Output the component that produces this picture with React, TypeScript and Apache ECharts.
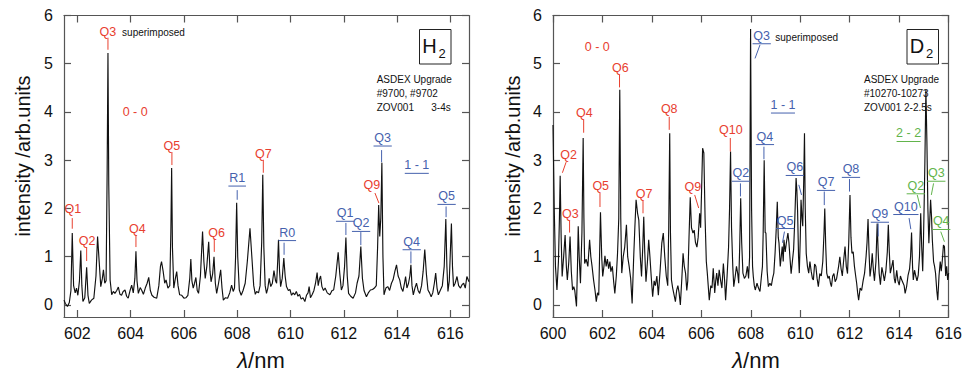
import React, { useEffect, useRef } from 'react';
import * as echarts from 'echarts';

// ---------- data: H2 spectrum (wavelength nm, intensity arb.units) ----------
const h2Spectrum: [number, number][] = [
  [601.50, 0.10], [601.55, 0.03], [601.63, -0.03], [601.70, 0.05], [601.76, 0.30], [601.81, 1.49],
  [601.86, 0.40], [601.92, 0.25], [601.97, 0.35], [602.02, 0.20], [602.08, 0.50], [602.13, 1.13],
  [602.17, 0.40], [602.21, 0.07], [602.28, 0.15], [602.35, 0.78], [602.40, 0.20], [602.45, 0.03],
  [602.53, 0.10], [602.62, 0.14], [602.70, 0.60], [602.76, 1.42], [602.82, 0.90], [602.88, 0.38],
  [602.94, 0.55], [602.98, 0.73], [603.03, 0.45], [603.08, 0.50], [603.12, 2.80], [603.15, 5.22],
  [603.18, 2.50], [603.23, 0.52], [603.29, 0.21], [603.35, 0.28], [603.41, 0.24], [603.48, 0.30],
  [603.54, 0.37], [603.60, 0.22], [603.66, 0.20], [603.72, 0.28], [603.79, 0.31], [603.85, 0.18],
  [603.91, 0.14], [603.98, 0.30], [604.04, 0.41], [604.10, 0.25], [604.16, 0.55], [604.20, 1.11],
  [604.24, 0.50], [604.29, 0.24], [604.36, 0.36], [604.42, 0.30], [604.48, 0.22], [604.55, 0.35],
  [604.62, 0.45], [604.68, 0.57], [604.74, 0.30], [604.80, 0.20], [604.88, 0.16], [604.98, 0.14],
  [605.06, 0.40], [605.12, 0.80], [605.16, 0.90], [605.22, 0.70], [605.28, 0.45], [605.33, 0.52],
  [605.40, 0.35], [605.47, 0.40], [605.51, 1.50], [605.54, 2.84], [605.57, 1.20], [605.62, 0.35],
  [605.68, 0.55], [605.73, 0.69], [605.78, 0.40], [605.84, 0.21], [605.92, 0.20], [606.00, 0.14],
  [606.08, 0.15], [606.15, 0.20], [606.22, 0.55], [606.26, 0.95], [606.30, 0.50], [606.35, 0.35],
  [606.40, 0.45], [606.45, 0.57], [606.50, 0.30], [606.55, 0.24], [606.62, 0.60], [606.70, 1.52],
  [606.75, 0.90], [606.80, 0.55], [606.86, 0.80], [606.93, 1.31], [606.98, 0.70], [607.02, 0.48],
  [607.08, 0.65], [607.13, 1.00], [607.18, 0.45], [607.23, 0.24], [607.30, 0.45], [607.38, 0.73],
  [607.43, 0.35], [607.48, 0.10], [607.56, 0.15], [607.64, 0.14], [607.72, 0.25], [607.79, 0.41],
  [607.85, 0.28], [607.90, 0.35], [607.94, 1.00], [607.98, 2.12], [608.02, 1.00], [608.08, 0.31],
  [608.15, 0.20], [608.22, 0.30], [608.30, 0.45], [608.38, 0.90], [608.48, 1.59], [608.55, 1.00],
  [608.62, 0.40], [608.68, 0.22], [608.73, 0.28], [608.80, 0.25], [608.86, 0.40], [608.92, 1.30],
  [608.96, 2.70], [609.00, 1.20], [609.05, 0.40], [609.10, 0.24], [609.15, 0.35], [609.20, 0.55],
  [609.26, 0.38], [609.32, 0.45], [609.38, 0.71], [609.44, 0.50], [609.48, 0.45], [609.52, 0.90],
  [609.55, 1.35], [609.59, 0.70], [609.63, 0.38], [609.69, 0.55], [609.75, 0.97], [609.80, 0.60],
  [609.85, 0.38], [609.92, 0.30], [609.98, 0.32], [610.04, 0.20], [610.10, 0.25], [610.16, 0.21],
  [610.22, 0.28], [610.28, 0.18], [610.34, 0.22], [610.40, 0.12], [610.47, 0.15], [610.54, 0.07],
  [610.60, 0.20], [610.66, 0.25], [610.70, 0.38], [610.75, 0.15], [610.82, 0.22], [610.88, 0.30],
  [610.94, 0.45], [611.00, 0.67], [611.04, 0.40], [611.08, 0.52], [611.13, 0.60], [611.18, 0.38],
  [611.24, 0.30], [611.30, 0.35], [611.38, 0.25], [611.48, 0.21], [611.56, 0.30], [611.62, 0.31],
  [611.70, 0.60], [611.79, 1.09], [611.85, 0.65], [611.91, 0.31], [611.97, 0.40], [612.03, 0.80],
  [612.08, 1.40], [612.13, 0.60], [612.18, 0.24], [612.26, 0.18], [612.35, 0.14], [612.44, 0.25],
  [612.50, 0.45], [612.57, 0.60], [612.64, 1.21], [612.70, 0.55], [612.76, 0.30], [612.85, 0.17],
  [612.92, 0.25], [613.00, 0.31], [613.08, 0.32], [613.15, 0.35], [613.22, 0.40], [613.27, 1.20],
  [613.31, 2.07], [613.35, 1.42], [613.39, 1.80], [613.43, 2.95], [613.47, 1.00], [613.51, 0.21],
  [613.58, 0.35], [613.65, 0.38], [613.72, 0.30], [613.79, 0.45], [613.85, 0.52], [613.92, 0.70],
  [613.98, 0.83], [614.04, 0.60], [614.10, 0.52], [614.16, 0.35], [614.22, 0.28], [614.28, 0.45],
  [614.32, 0.59], [614.37, 0.35], [614.43, 0.45], [614.48, 0.60], [614.52, 0.83], [614.56, 0.40],
  [614.61, 0.21], [614.67, 0.35], [614.73, 0.45], [614.79, 0.30], [614.85, 0.24], [614.92, 0.40],
  [614.98, 0.70], [615.04, 1.15], [615.10, 0.65], [615.16, 0.31], [615.22, 0.25], [615.28, 0.17],
  [615.34, 0.25], [615.40, 0.45], [615.45, 0.66], [615.50, 0.35], [615.55, 0.21], [615.62, 0.30],
  [615.70, 0.40], [615.77, 0.80], [615.83, 1.78], [615.87, 0.80], [615.91, 0.28], [615.96, 0.50],
  [616.04, 1.69], [616.08, 0.80], [616.12, 0.38], [616.18, 0.45], [616.25, 0.59], [616.31, 0.40],
  [616.38, 0.35], [616.44, 0.42], [616.50, 0.45], [616.56, 0.35], [616.62, 0.59], [616.70, 0.48],
];

// ---------- data: D2 spectrum ----------
const d2Spectrum: [number, number][] = [
  [600.00, 3.73], [600.05, 2.00], [600.10, 0.80], [600.16, 0.31], [600.22, 0.90], [600.26, 1.80],
  [600.29, 2.68], [600.33, 1.40], [600.37, 0.59], [600.43, 1.00], [600.49, 1.45], [600.54, 0.80],
  [600.58, 0.52], [600.64, 0.90], [600.69, 1.42], [600.74, 0.70], [600.79, 0.31], [600.84, 0.38],
  [600.88, 0.30], [600.95, -0.03], [600.99, 0.80], [601.02, 1.63], [601.06, 1.00], [601.11, 0.45],
  [601.17, 1.50], [601.22, 3.46], [601.25, 1.80], [601.28, 0.86], [601.34, 0.95], [601.41, 0.80],
  [601.48, 1.35], [601.53, 1.00], [601.58, 0.80], [601.64, 0.52], [601.70, 0.30], [601.75, 0.07],
  [601.80, 0.25], [601.85, 0.20], [601.92, 1.92], [601.97, 1.00], [602.01, 0.59], [602.06, 0.80],
  [602.10, 1.02], [602.15, 0.80], [602.20, 0.95], [602.25, 0.75], [602.30, 0.90], [602.34, 0.69],
  [602.40, 0.80], [602.45, 0.50], [602.50, 0.24], [602.56, 0.60], [602.61, 1.07], [602.66, 1.80],
  [602.70, 4.46], [602.74, 1.80], [602.78, 0.66], [602.84, 1.00], [602.90, 1.20], [602.97, 1.66],
  [603.02, 1.00], [603.08, 0.80], [603.14, 0.55], [603.20, 0.03], [603.26, 0.95], [603.31, 1.60],
  [603.36, 2.18], [603.42, 1.90], [603.47, 1.76], [603.53, 1.00], [603.58, 0.59], [603.63, 1.20],
  [603.67, 1.83], [603.71, 1.10], [603.76, 0.48], [603.82, 0.90], [603.87, 1.35], [603.92, 1.00],
  [603.97, 0.60], [604.03, 0.17], [604.09, 0.50], [604.14, 0.40], [604.20, 0.60], [604.26, 0.20],
  [604.33, 0.70], [604.40, 1.28], [604.46, 1.49], [604.52, 1.00], [604.58, 0.60], [604.64, 0.40],
  [604.68, 1.60], [604.72, 3.56], [604.75, 1.50], [604.79, 0.52], [604.84, 0.35], [604.90, 0.20],
  [604.95, 0.07], [605.00, 0.30], [605.05, 0.40], [605.10, 0.25], [605.15, 0.00], [605.21, 0.55],
  [605.26, 1.07], [605.31, 0.80], [605.36, 0.66], [605.41, 0.30], [605.45, 0.50], [605.50, 1.40],
  [605.55, 2.23], [605.60, 1.60], [605.66, 1.49], [605.71, 1.55], [605.76, 1.30], [605.82, 1.20],
  [605.87, 1.40], [605.93, 1.90], [605.97, 1.60], [606.01, 2.40], [606.05, 3.25], [606.10, 3.15],
  [606.15, 1.80], [606.20, 0.90], [606.24, 0.66], [606.32, 0.10], [606.38, 0.40], [606.43, 0.35],
  [606.48, 0.76], [606.54, 0.25], [606.58, 0.50], [606.62, 0.66], [606.67, 0.40], [606.72, 0.73],
  [606.78, 0.50], [606.83, 0.35], [606.89, 0.86], [606.94, 0.50], [606.98, 0.10], [607.04, 0.60],
  [607.10, 1.20], [607.14, 2.00], [607.18, 3.18], [607.22, 1.60], [607.27, 0.80], [607.31, 0.38],
  [607.37, 0.60], [607.42, 0.80], [607.47, 0.65], [607.51, 0.45], [607.55, 1.20], [607.59, 2.21],
  [607.63, 1.30], [607.68, 0.66], [607.74, 0.55], [607.80, 0.60], [607.86, 0.80], [607.91, 0.55],
  [607.95, 1.00], [607.99, 5.72], [608.03, 2.00], [608.07, 0.80], [608.10, 0.59], [608.14, 0.40],
  [608.18, 0.31], [608.25, 0.45], [608.31, 0.35], [608.37, 0.28], [608.43, 0.60], [608.47, 0.80],
  [608.50, 1.50], [608.54, 3.00], [608.58, 1.50], [608.61, 1.49], [608.66, 0.70], [608.71, 0.38],
  [608.77, 0.45], [608.83, 0.40], [608.88, 0.55], [608.93, 0.66], [608.98, 1.07], [609.03, 1.60],
  [609.07, 2.14], [609.11, 1.40], [609.14, 1.28], [609.19, 0.80], [609.23, 1.00], [609.27, 1.21],
  [609.31, 0.90], [609.34, 1.35], [609.39, 1.10], [609.44, 1.30], [609.50, 1.49], [609.54, 1.30],
  [609.58, 1.00], [609.63, 0.65], [609.68, 0.90], [609.73, 1.15], [609.78, 1.80], [609.83, 2.63],
  [609.86, 2.40], [609.89, 1.97], [609.93, 1.00], [609.96, 0.66], [610.00, 1.40], [610.03, 2.18],
  [610.07, 1.80], [610.10, 1.63], [610.14, 2.60], [610.17, 3.56], [610.20, 2.00], [610.24, 1.07],
  [610.29, 0.80], [610.34, 0.66], [610.39, 0.90], [610.44, 0.70], [610.49, 0.55], [610.53, 0.52],
  [610.58, 0.85], [610.63, 0.80], [610.68, 0.55], [610.73, 0.38], [610.79, 0.65], [610.85, 0.60],
  [610.91, 0.90], [610.96, 1.50], [610.99, 2.00], [611.03, 1.20], [611.07, 0.66], [611.12, 0.55],
  [611.17, 0.60], [611.22, 0.45], [611.26, 0.38], [611.31, 0.60], [611.36, 0.65], [611.41, 0.48],
  [611.47, 0.55], [611.55, 0.80], [611.60, 1.00], [611.65, 0.75], [611.70, 0.60], [611.75, 0.90],
  [611.81, 1.21], [611.86, 0.80], [611.91, 0.65], [611.96, 1.30], [612.01, 2.28], [612.05, 1.40],
  [612.09, 1.07], [612.14, 1.10], [612.19, 0.80], [612.24, 0.60], [612.28, 0.45], [612.32, 0.25],
  [612.36, 0.10], [612.42, 0.35], [612.48, 0.30], [612.54, 0.50], [612.60, 0.66], [612.66, 1.00],
  [612.70, 1.30], [612.74, 1.78], [612.78, 1.10], [612.82, 0.59], [612.87, 0.80], [612.91, 1.07],
  [612.96, 0.70], [613.00, 0.50], [613.06, 0.90], [613.11, 1.69], [613.15, 1.10], [613.19, 0.66],
  [613.24, 0.42], [613.30, 0.78], [613.35, 0.65], [613.40, 0.50], [613.46, 0.70], [613.52, 1.10],
  [613.56, 1.66], [613.60, 1.10], [613.64, 0.66], [613.70, 0.80], [613.75, 0.93], [613.80, 0.55],
  [613.84, 0.45], [613.90, 0.72], [613.95, 0.50], [614.00, 0.41], [614.05, 0.60], [614.10, 0.52],
  [614.16, 0.45], [614.20, 0.40], [614.24, 0.24], [614.30, 0.38], [614.36, 0.62], [614.42, 0.75],
  [614.46, 1.00], [614.50, 1.50], [614.54, 0.80], [614.57, 0.52], [614.62, 0.72], [614.67, 0.60],
  [614.72, 0.50], [614.77, 0.62], [614.82, 1.00], [614.87, 1.90], [614.91, 1.20], [614.95, 0.70],
  [614.98, 1.30], [615.01, 2.10], [615.04, 3.00], [615.08, 4.46], [615.12, 3.40], [615.16, 2.00],
  [615.20, 1.28], [615.24, 1.80], [615.27, 2.18], [615.31, 1.80], [615.34, 1.35], [615.39, 0.90],
  [615.43, 0.80], [615.47, 0.66], [615.52, 0.30], [615.56, 0.10], [615.61, 0.60], [615.66, 0.90],
  [615.70, 0.70], [615.74, 0.90], [615.79, 1.24], [615.83, 1.21], [615.88, 0.60], [615.92, 0.80],
  [615.96, 0.52], [616.00, 0.66],
];

// ---------- line labels: name, band (0 = 0-0, 1 = 1-1, 2 = 2-2), text λ, text I, tick start λ, I, tick end λ, I ----------
type LineLabel = [string, number, number, number, number, number, number, number];
const h2Labels: LineLabel[] = [
  ['Q1', 0, 601.83, 1.98, 601.81, 1.80, 601.81, 1.58],
  ['Q2', 0, 602.37, 1.33, 602.35, 1.20, 602.35, 0.91],
  ['Q3', 0, 603.15, 5.66, 603.15, 5.54, 603.15, 5.29],
  ['Q4', 0, 604.25, 1.57, 604.20, 1.45, 604.20, 1.20],
  ['Q5', 0, 605.55, 3.30, 605.55, 3.17, 605.55, 2.90],
  ['Q6', 0, 607.23, 1.50, 607.14, 1.37, 607.14, 1.10],
  ['Q7', 0, 608.98, 3.13, 608.98, 3.01, 608.98, 2.74],
  ['Q9', 0, 613.05, 2.49, 613.17, 2.32, 613.32, 2.11],
  ['R1', 1, 608.00, 2.63, 608.00, 2.38, 608.00, 2.18],
  ['R0', 1, 609.88, 1.50, 609.76, 1.29, 609.76, 1.04],
  ['Q1', 1, 612.05, 1.90, 612.08, 1.70, 612.08, 1.45],
  ['Q2', 1, 612.65, 1.69, 612.64, 1.51, 612.64, 1.24],
  ['Q3', 1, 613.46, 3.46, 613.42, 3.21, 613.42, 2.96],
  ['Q4', 1, 614.55, 1.31, 614.52, 1.11, 614.52, 0.86],
  ['Q5', 1, 615.86, 2.25, 615.84, 2.04, 615.84, 1.82],
];
const d2Labels: LineLabel[] = [
  ['Q2', 0, 600.63, 3.11, 600.53, 2.96, 600.38, 2.74],
  ['Q3', 0, 600.70, 1.88, 600.67, 1.75, 600.67, 1.50],
  ['Q4', 0, 601.27, 3.97, 601.24, 3.84, 601.24, 3.57],
  ['Q5', 0, 601.93, 2.47, 601.90, 2.32, 601.90, 2.03],
  ['Q6', 0, 602.72, 4.91, 602.69, 4.77, 602.69, 4.51],
  ['Q7', 0, 603.68, 2.30, 603.64, 2.16, 603.64, 1.90],
  ['Q8', 0, 604.70, 4.06, 604.70, 3.90, 604.70, 3.63],
  ['Q9', 0, 605.66, 2.45, 605.73, 2.28, 605.89, 2.01],
  ['Q10', 0, 607.19, 3.63, 607.17, 3.46, 607.17, 3.18],
  ['Q2', 1, 607.60, 2.73, 607.58, 2.52, 607.58, 2.25],
  ['Q3', 1, 608.44, 5.58, 608.37, 5.39, 608.17, 5.11],
  ['Q4', 1, 608.57, 3.49, 608.53, 3.28, 608.53, 3.02],
  ['Q5', 1, 609.39, 1.75, 609.36, 1.52, 609.28, 1.29],
  ['Q6', 1, 609.78, 2.85, 609.94, 2.49, 610.05, 2.28],
  ['Q7', 1, 611.04, 2.54, 610.97, 2.35, 610.97, 2.07],
  ['Q8', 1, 612.05, 2.81, 611.99, 2.61, 611.99, 2.35],
  ['Q9', 1, 613.22, 1.88, 613.15, 1.69, 613.15, 1.42],
  ['Q10', 1, 614.27, 2.04, 614.40, 1.80, 614.47, 1.57],
  ['Q2', 2, 614.67, 2.47, 614.73, 2.28, 614.86, 2.01],
  ['Q3', 2, 615.50, 2.73, 615.39, 2.52, 615.30, 2.28],
  ['Q4', 2, 615.70, 1.73, 615.68, 1.52, 615.83, 1.31],
];

// band captions: text, band, λ, I
type BandLabel = [string, number, number, number];
const h2Bands: BandLabel[] = [['0 - 0', 0, 604.17, 4.00], ['1 - 1', 1, 614.74, 2.90]];
const d2Bands: BandLabel[] = [['0 - 0', 0, 601.79, 5.35], ['1 - 1', 1, 609.30, 4.15], ['2 - 2', 2, 614.38, 3.56]];

// notes: text, λ (left edge), I
type Note = [string, number, number];
const h2Notes: Note[] = [['superimposed', 603.68, 5.64]];
const d2Notes: Note[] = [['superimposed', 608.99, 5.54]];

const h2XTicks = [602, 604, 606, 608, 610, 612, 614, 616];
const d2XTicks = [600, 602, 604, 606, 608, 610, 612, 614, 616];
const yTicks = [0, 1, 2, 3, 4, 5, 6];

const h2Info = ['ASDEX Upgrade', '#9700, #9702', 'ZOV001'];
const h2Time = '3-4s';
const d2Info = ['ASDEX Upgrade', '#10270-10273', 'ZOV001 2-2.5s'];

// ---------- styles ----------
const FONT = '"Liberation Sans", Arial, Helvetica, sans-serif';
const BAND_COLORS = ['#e8402f', '#4561ad', '#62b44c'];
const AXIS_COLOR = '#555';
const LABEL_SIZE = 12.5;

const CHAR_W: Record<string, number> = { Q: 0.778, R: 0.722, ' ': 0.278, '-': 0.333 };
function textWidth(s: string, size: number) {
  let w = 0;
  for (const c of s) w += CHAR_W[c] ?? 0.556;
  return w * size;
}

function lineLabelSeries(rows: LineLabel[], axis: number) {
  return {
    type: 'custom',
    xAxisIndex: axis,
    yAxisIndex: axis,
    clip: false,
    silent: true,
    z: 5,
    data: rows.map((r) => r.slice(2)),
    encode: { x: [0, 2, 4], y: [1, 3, 5] },
    renderItem: (params: any, api: any) => {
      const r = rows[params.dataIndex];
      const name = r[0];
      const band = r[1];
      const color = BAND_COLORS[band];
      const t = api.coord([api.value(0), api.value(1)]);
      const a = api.coord([api.value(2), api.value(3)]);
      const b = api.coord([api.value(4), api.value(5)]);
      const children: any[] = [
        {
          type: 'text',
          x: t[0],
          y: t[1],
          style: { text: name, fill: color, fontSize: LABEL_SIZE, fontFamily: FONT, align: 'center', verticalAlign: 'middle' },
        },
        {
          type: 'line',
          shape: { x1: a[0], y1: a[1], x2: b[0], y2: b[1] },
          style: { stroke: color, lineWidth: 1 },
        },
      ];
      if (band > 0) {
        const hw = textWidth(name, LABEL_SIZE) / 2 + 0.8;
        children.push({
          type: 'line',
          shape: { x1: t[0] - hw, y1: t[1] + 8, x2: t[0] + hw, y2: t[1] + 8 },
          style: { stroke: color, lineWidth: 1 },
        });
      }
      return { type: 'group', children };
    },
  };
}

function bandLabelSeries(rows: BandLabel[], axis: number) {
  return {
    type: 'custom',
    xAxisIndex: axis,
    yAxisIndex: axis,
    clip: false,
    silent: true,
    z: 5,
    data: rows.map((r) => [r[2], r[3]]),
    encode: { x: 0, y: 1 },
    renderItem: (params: any, api: any) => {
      const r = rows[params.dataIndex];
      const color = BAND_COLORS[r[1]];
      const t = api.coord([api.value(0), api.value(1)]);
      const children: any[] = [
        {
          type: 'text',
          x: t[0],
          y: t[1],
          style: { text: r[0], fill: color, fontSize: LABEL_SIZE, fontFamily: FONT, align: 'center', verticalAlign: 'middle' },
        },
      ];
      if (r[1] > 0) {
        const hw = textWidth(r[0], LABEL_SIZE) / 2 - 0.5;
        children.push({
          type: 'line',
          shape: { x1: t[0] - hw, y1: t[1] + 8.3, x2: t[0] + hw, y2: t[1] + 8.3 },
          style: { stroke: color, lineWidth: 1 },
        });
      }
      return { type: 'group', children };
    },
  };
}

function noteSeries(rows: Note[], axis: number) {
  return {
    type: 'custom',
    xAxisIndex: axis,
    yAxisIndex: axis,
    clip: false,
    silent: true,
    z: 5,
    data: rows.map((r) => [r[1], r[2]]),
    encode: { x: 0, y: 1 },
    renderItem: (params: any, api: any) => {
      const r = rows[params.dataIndex];
      const t = api.coord([api.value(0), api.value(1)]);
      return {
        type: 'text',
        x: t[0],
        y: t[1],
        style: { text: r[0], fill: '#111', fontSize: 10, fontFamily: FONT, align: 'left', verticalAlign: 'middle' },
      };
    },
  };
}

function xAxes(gridIndex: number, min: number, max: number, ticks: number[]) {
  const line = { show: true, onZero: false, lineStyle: { color: AXIS_COLOR, width: 1.2 } };
  const tick = { show: true, inside: true, length: 7, customValues: ticks, lineStyle: { color: AXIS_COLOR, width: 1.2 } };
  return [
    {
      type: 'value', gridIndex, min, max, position: 'bottom',
      axisLine: line, axisTick: tick,
      axisLabel: { show: true, customValues: ticks, fontSize: 16, margin: 8, color: '#111', fontFamily: FONT },
      splitLine: { show: false },
    },
    {
      type: 'value', gridIndex, min, max, position: 'top',
      axisLine: line, axisTick: tick,
      axisLabel: { show: false },
      splitLine: { show: false },
    },
  ];
}

function yAxes(gridIndex: number) {
  const line = { show: true, onZero: false, lineStyle: { color: AXIS_COLOR, width: 1.2 } };
  const tick = { show: true, inside: true, length: 7, customValues: yTicks, lineStyle: { color: AXIS_COLOR, width: 1.2 } };
  return [
    {
      type: 'value', gridIndex, min: -0.25, max: 6, position: 'left',
      axisLine: line, axisTick: tick,
      axisLabel: { show: true, customValues: yTicks, fontSize: 16, margin: 11, color: '#111', fontFamily: FONT },
      splitLine: { show: false },
    },
    {
      type: 'value', gridIndex, min: -0.25, max: 6, position: 'right',
      axisLine: line, axisTick: tick,
      axisLabel: { show: false },
      splitLine: { show: false },
    },
  ];
}

function infoGraphics(x: number, lines: string[]) {
  return lines.map((s, i) => ({
    type: 'text',
    x,
    y: 79 + i * 14.4,
    style: { text: s, fill: '#111', fontSize: 10, fontFamily: FONT, align: 'left', verticalAlign: 'middle' },
  }));
}

function moleculeBox(x: number, letter: string) {
  return [
    { type: 'rect', shape: { x, y: 29.5, width: 31.5, height: 34.5 }, style: { fill: 'none', stroke: '#222', lineWidth: 1 } },
    { type: 'text', x: x + 10, y: 46, style: { text: letter, fill: '#111', fontSize: 20, fontFamily: FONT, align: 'center', verticalAlign: 'middle' } },
    { type: 'text', x: x + 22.5, y: 53, style: { text: '2', fill: '#111', fontSize: 13, fontFamily: FONT, align: 'center', verticalAlign: 'middle' } },
  ];
}

function yTitle(x: number) {
  return {
    type: 'text', x, y: 156, rotation: Math.PI / 2,
    style: { text: 'intensity /arb.units', fill: '#111', fontSize: 20, fontFamily: FONT, align: 'center', verticalAlign: 'middle' },
  };
}

function xTitle(x: number) {
  return {
    type: 'text', x, y: 360,
    style: {
      text: '{l|λ}{n|/nm}',
      align: 'center', verticalAlign: 'middle',
      rich: {
        l: { fontSize: 22, fontStyle: 'italic', fontFamily: FONT, fill: '#111' },
        n: { fontSize: 22, fontFamily: FONT, fill: '#111' },
      },
    },
  };
}

export default function App() {
  const ref = useRef<HTMLDivElement>(null);
  useEffect(() => {
    if (!ref.current) return;
    const chart = echarts.init(ref.current, undefined, { renderer: 'svg' });
    const spectrumStyle = { color: '#111', width: 1.15 };
    chart.setOption({
      animation: false,
      backgroundColor: '#fff',
      grid: [
        { left: 64, top: 15.5, width: 405, height: 301.5 },
        { left: 553, top: 15.5, width: 404, height: 301.5 },
      ],
      xAxis: [...xAxes(0, 601.5, 616.7, h2XTicks), ...xAxes(1, 600, 616, d2XTicks)],
      yAxis: [...yAxes(0), ...yAxes(1)],
      series: [
        {
          type: 'line', xAxisIndex: 0, yAxisIndex: 0, data: h2Spectrum,
          showSymbol: false, symbol: 'none', lineStyle: spectrumStyle, clip: true, silent: true,
        },
        {
          type: 'line', xAxisIndex: 2, yAxisIndex: 2, data: d2Spectrum,
          showSymbol: false, symbol: 'none', lineStyle: spectrumStyle, clip: true, silent: true,
        },
        lineLabelSeries(h2Labels, 0),
        bandLabelSeries(h2Bands, 0),
        noteSeries(h2Notes, 0),
        lineLabelSeries(d2Labels, 2),
        bandLabelSeries(d2Bands, 2),
        noteSeries(d2Notes, 2),
      ],
      graphic: [
        ...moleculeBox(419.5, 'H'),
        ...moleculeBox(907, 'D'),
        ...infoGraphics(376.7, h2Info),
        { type: 'text', x: 450.7, y: 79 + 2 * 14.4, style: { text: h2Time, fill: '#111', fontSize: 10, fontFamily: FONT, align: 'right', verticalAlign: 'middle' } },
        ...infoGraphics(864, d2Info),
        yTitle(23),
        yTitle(513),
        xTitle(261),
        xTitle(756),
      ],
    });
    return () => chart.dispose();
  }, []);
  return <div ref={ref} style={{ position: 'fixed', left: 0, top: 0, width: 965, height: 373 }} />;
}
